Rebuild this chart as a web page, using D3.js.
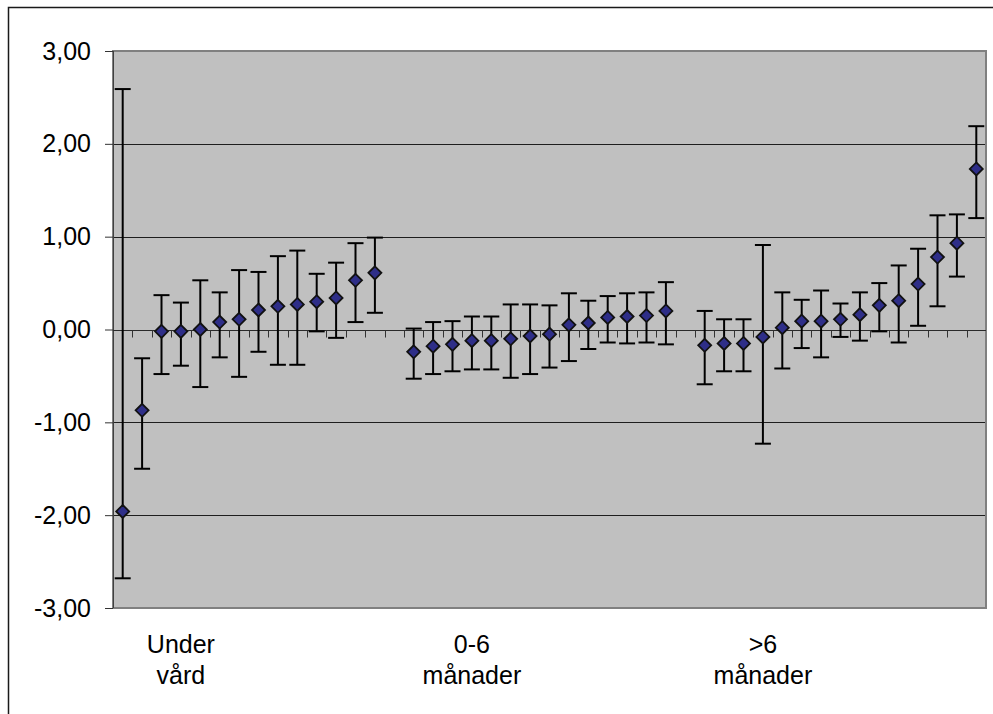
<!DOCTYPE html>
<html>
<head>
<meta charset="utf-8">
<script src="https://cdn.jsdelivr.net/npm/d3@7"></script>
<style>
  body { margin: 0; background: #fff; }
  text { font-family: "Liberation Sans", Arial, sans-serif; fill: #000; }
</style>
</head>
<body>
<div id="vis"></div>
<script>
// 45 category slots: three groups separated by an empty slot
var categoryLabels = ["", "", "", "Under|vård", "", "", "", "", "", "", "", "", "", "", "",
                      "", "", "", "0-6|månader", "", "", "", "", "", "", "", "", "", "", "",
                      "", "", "", ">6|månader", "", "", "", "", "", "", "", "", "", "", ""];

var mean = [-1.96, -0.87, -0.02, -0.02, 0.00, 0.08, 0.11, 0.21, 0.25, 0.27, 0.30, 0.34, 0.53, 0.61, null,
            -0.24, -0.18, -0.16, -0.12, -0.12, -0.10, -0.07, -0.05, 0.05, 0.07, 0.13, 0.14, 0.15, 0.20, null,
            -0.17, -0.15, -0.15, -0.08, 0.02, 0.09, 0.09, 0.11, 0.16, 0.26, 0.31, 0.49, 0.78, 0.93, 1.73];

var upper = [2.59, -0.31, 0.37, 0.29, 0.53, 0.40, 0.64, 0.62, 0.79, 0.85, 0.60, 0.72, 0.93, 0.99, null,
             0.01, 0.08, 0.09, 0.14, 0.14, 0.27, 0.27, 0.26, 0.39, 0.31, 0.36, 0.39, 0.40, 0.51, null,
             0.20, 0.11, 0.11, 0.91, 0.40, 0.32, 0.42, 0.28, 0.40, 0.50, 0.69, 0.87, 1.23, 1.24, 2.19];

var lower = [-2.68, -1.50, -0.48, -0.39, -0.62, -0.30, -0.51, -0.24, -0.38, -0.38, -0.02, -0.09, 0.08, 0.18, null,
             -0.53, -0.48, -0.45, -0.43, -0.43, -0.52, -0.48, -0.41, -0.34, -0.21, -0.14, -0.15, -0.14, -0.16, null,
             -0.59, -0.45, -0.45, -1.23, -0.42, -0.20, -0.30, -0.08, -0.12, -0.02, -0.14, 0.04, 0.25, 0.57, 1.20];

var yTicks = [-3, -2, -1, 0, 1, 2, 3];

var W = 993, H = 714;
var plot = {left: 113, top: 51, right: 986, bottom: 608};

var svg = d3.select("#vis").append("svg")
    .attr("width", W)
    .attr("height", H);

// chart area border
svg.append("rect")
    .attr("x", 8.5).attr("y", 7.5)
    .attr("width", W + 20).attr("height", H + 20)
    .attr("fill", "#fff")
    .attr("stroke", "#1a1a1a")
    .attr("stroke-width", 1.5);

var idx = d3.range(categoryLabels.length);

var x = d3.scaleBand()
    .domain(idx)
    .range([plot.left, plot.right])
    .padding(0);

var y = d3.scaleLinear()
    .domain([-3, 3])
    .range([plot.bottom, plot.top]);

var cx = function(i) { return x(i) + x.bandwidth() / 2; };

// plot area
svg.append("rect")
    .attr("x", plot.left).attr("y", plot.top)
    .attr("width", plot.right - plot.left)
    .attr("height", plot.bottom - plot.top)
    .attr("fill", "#c0c0c0");

// gridlines
svg.append("g").selectAll("line")
    .data(yTicks.filter(function(d) { return d !== 3 && d !== -3 && d !== 0; }))
    .enter().append("line")
    .attr("x1", plot.left).attr("x2", plot.right)
    .attr("y1", function(d) { return Math.round(y(d)) + 0.5; })
    .attr("y2", function(d) { return Math.round(y(d)) + 0.5; })
    .attr("stroke", "#1e1e1e")
    .attr("stroke-width", 1);

// plot border
svg.append("rect")
    .attr("x", plot.left).attr("y", plot.top)
    .attr("width", plot.right - plot.left)
    .attr("height", plot.bottom - plot.top)
    .attr("fill", "none")
    .attr("stroke", "#808080")
    .attr("stroke-width", 2);

// y axis
var yAxis = svg.append("g")
    .attr("transform", "translate(" + plot.left + ",0)")
    .call(d3.axisLeft(y)
        .tickValues(yTicks)
        .tickSize(8)
        .tickPadding(14)
        .tickFormat(function(d) { return d.toFixed(2).replace(".", ","); }));
yAxis.select(".domain").remove();
yAxis.selectAll(".tick line").attr("stroke", "#333");
yAxis.selectAll("text")
    .style("font-family", "'Liberation Sans', Arial, sans-serif")
    .style("font-size", "25px")
    .attr("dy", "0.32em")
    .attr("fill", "#000");

svg.append("line")
    .attr("x1", plot.left + 0.5).attr("x2", plot.left + 0.5)
    .attr("y1", plot.top).attr("y2", plot.bottom)
    .attr("stroke", "#404040");

// category axis at zero
var zeroY = Math.round(y(0)) + 0.5;
svg.append("line")
    .attr("x1", plot.left).attr("x2", plot.right)
    .attr("y1", zeroY).attr("y2", zeroY)
    .attr("stroke", "#2a2a2a");

svg.append("g").selectAll("line")
    .data(idx.slice(1))
    .enter().append("line")
    .attr("x1", function(i) { return Math.round(x(i)) + 0.5; })
    .attr("x2", function(i) { return Math.round(x(i)) + 0.5; })
    .attr("y1", zeroY)
    .attr("y2", zeroY + 7)
    .attr("stroke", "#333");

// category labels
var labels = svg.append("g").selectAll("text")
    .data(idx.filter(function(i) { return categoryLabels[i] !== ""; }))
    .enter().append("text")
    .attr("text-anchor", "middle")
    .style("font-size", "25px");
labels.each(function(i) {
    var parts = categoryLabels[i].split("|");
    var t = d3.select(this);
    parts.forEach(function(p, j) {
        t.append("tspan")
            .attr("x", cx(i))
            .attr("y", plot.bottom + 45 + j * 31)
            .text(p);
    });
});

var pts = idx.filter(function(i) { return mean[i] !== null; });

// error bars
var eb = svg.append("g").selectAll("g")
    .data(pts)
    .enter().append("g")
    .attr("stroke", "#000")
    .attr("stroke-width", 2);
eb.append("line")
    .attr("x1", cx).attr("x2", cx)
    .attr("y1", function(i) { return y(upper[i]); })
    .attr("y2", function(i) { return y(lower[i]); });
eb.append("line")
    .attr("x1", function(i) { return cx(i) - 8; })
    .attr("x2", function(i) { return cx(i) + 8; })
    .attr("y1", function(i) { return y(upper[i]); })
    .attr("y2", function(i) { return y(upper[i]); });
eb.append("line")
    .attr("x1", function(i) { return cx(i) - 8; })
    .attr("x2", function(i) { return cx(i) + 8; })
    .attr("y1", function(i) { return y(lower[i]); })
    .attr("y2", function(i) { return y(lower[i]); });

// diamond markers
svg.append("g").selectAll("path")
    .data(pts)
    .enter().append("path")
    .attr("d", "M0,-6.5L6.5,0L0,6.5L-6.5,0Z")
    .attr("transform", function(i) { return "translate(" + cx(i) + "," + y(mean[i]) + ")"; })
    .attr("fill", "#2e2e88")
    .attr("stroke", "#111")
    .attr("stroke-width", 1.8);
</script>
</body>
</html>
